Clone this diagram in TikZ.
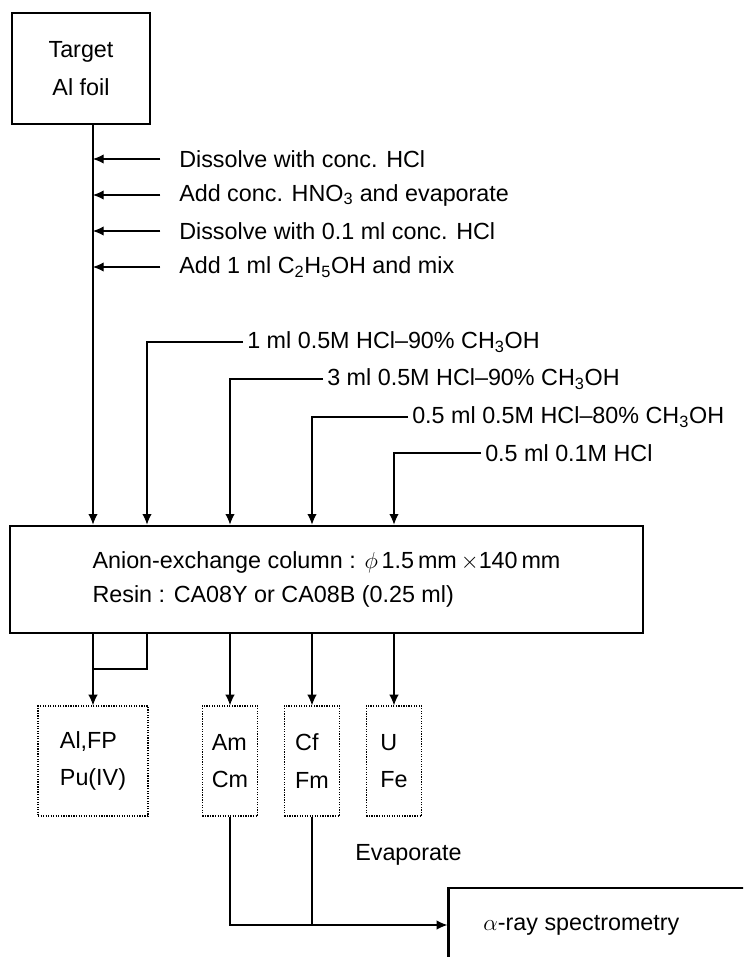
\documentclass[tikz,border=0pt]{standalone}
\usepackage{fontspec}
\setmainfont{Liberation Sans}
\usetikzlibrary{arrows.meta, positioning, calc}

\begin{document}
\begin{tikzpicture}[
  x=0.75pt, y=-0.75pt,
  font=\fontsize{17.5}{26}\selectfont,
  >={Latex[length=8pt, width=7pt]},
  % process stages are heavy frames, the collected fractions dotted ones
  stage/.style    = {draw, line width=2pt, align=center, inner sep=0pt},
  fraction/.style = {draw, densely dotted, line width=0.9pt, align=left,
                     minimum height=82.5pt, inner sep=0pt},
  flow/.style     = {->, line width=0.8pt},
  link/.style     = {line width=0.8pt},
  lbl/.style      = {anchor=west, inner xsep=3pt, inner ysep=1pt},
]

% page frame (the spectrometry box runs off the page)
\useasboundingbox (0,0) rectangle (743,957);
\clip (0,0) rectangle (743,957);

% feed points along the top and bottom of the column
\foreach \x [count=\i] in {93,147,230,312,394}
  \coordinate (p\i) at (\x,0);

% ============================ sample and dissolution ========================
\node[stage, minimum width=103.5pt, minimum height=83.25pt] (target)
     at (81,68.5) {Target\\[3pt]Al foil};

\node[lbl] (dis) at (175,159) {Dissolve with conc. HCl};
\node[lbl, below=27pt of dis.west, anchor=west] (nitric)
     {Add conc. HNO\textsubscript{3} and evaporate};
\node[lbl, below=27pt of nitric.west, anchor=west] (redis)
     {Dissolve with 0.1 ml conc. HCl};
\node[lbl, below=27pt of redis.west, anchor=west] (ethanol)
     {Add 1 ml C\textsubscript{2}H\textsubscript{5}OH and mix};

% ============================ anion-exchange column =========================
\node[stage, minimum width=474.75pt, minimum height=80.25pt, align=left]
     (column) at (326.5,579.5)
     {Anion-exchange column : $\phi$\,1.5\,mm\,$\times$140\,mm\\
      Resin : CA08Y or CA08B (0.25 ml)};

\draw[flow] (target.south -| p1) -- (p1 |- column.north);
\foreach \n in {dis, nitric, redis, ethanol}
  \draw[flow, shorten <=11pt] (\n.west) -- (\n.west -| p1);

% eluents, one after the other
\node[lbl] (wash1) at (243,342) {1 ml 0.5M HCl--90\% CH\textsubscript{3}OH};
\node[lbl] (wash2) at (323,379) {3 ml 0.5M HCl--90\% CH\textsubscript{3}OH};
\node[lbl] (wash3) at (408,417) {0.5 ml 0.5M HCl--80\% CH\textsubscript{3}OH};
\node[lbl] (strip) at (481,453) {0.5 ml 0.1M HCl};
\foreach \n/\i in {wash1/2, wash2/3, wash3/4, strip/5}
  \draw[flow] (\n.west) -| (p\i |- column.north);

% ============================ fractions =====================================
\node[fraction, minimum width=82.5pt] (alfp) at (93,761) {Al,FP\\[2pt]Pu(IV)};
\foreach \n/\x/\a/\b in {amcm/230/Am/Cm, cffm/312/Cf/Fm, ufe/394/U/Fe}
  \node[fraction, minimum width=41.5pt] (\n) at (\x,761) {\a\\[2pt]\b};

\coordinate (join) at (93,669);
\draw[link] (p2 |- column.south) |- (join);
\draw[flow] (p1 |- column.south) -- (alfp.north);
\foreach \n/\i in {amcm/3, cffm/4, ufe/5}
  \draw[flow] (p\i |- column.south) -- (\n.north);

% ============================ measurement ===================================
\node[stage, minimum width=278pt, minimum height=55.5pt] (spec) at (634,925) {};
\node[right=23.5pt of spec.west] (spectxt) {$\alpha$-ray spectrometry};

\draw[flow] (amcm.south) |- (spec.west);
\draw[link] (cffm.south) -- (cffm.south |- spec.west);
\node[lbl] (evap) at (351,855) {Evaporate};

\end{tikzpicture}
\end{document}
